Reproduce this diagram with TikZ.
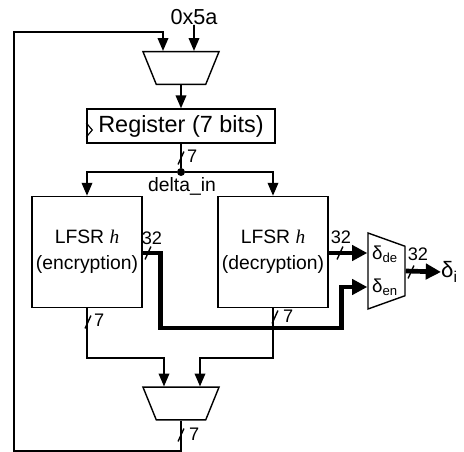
\documentclass[tikz,border=0pt]{standalone}
\usepackage{fontspec}
\setmainfont{Liberation Sans}
\newfontfamily\hfont{Liberation Serif}
\usetikzlibrary{shapes.geometric,arrows.meta,positioning,calc}

\tikzset{bw/.pic={\draw[line width=1.2pt] (-2.5pt,-5.5pt) -- (2.5pt,5.5pt);}}

\begin{document}
\begin{tikzpicture}[x=0.03cm,y=-0.03cm,
  line/.style={line width=1.5pt},
  arr/.style={line,-{Triangle[length=11pt,width=9pt]}},
  bus/.style={line width=4pt,-{Triangle[length=13pt,width=13pt]}},
  mux/.style={trapezium,draw,line width=1.2pt,trapezium stretches=true,trapezium angle=75,
    minimum width=2.28cm,minimum height=0.98cm,inner sep=1pt,shape border rotate=180},
  muxv/.style={mux,shape border rotate=270,minimum width=2.28cm,minimum height=1.11cm},
  lfsr/.style={draw,line width=1.3pt,minimum width=3.06cm,minimum height=3.33cm,align=center,
    font=\fontsize{16.5}{22}\selectfont},
  lbl/.style={font=\fontsize{15.5}{15.5}\selectfont,inner sep=0pt},
  txt/.style={font=\fontsize{16.5}{18}\selectfont,inner sep=0pt}
]
  \useasboundingbox (0,0) rectangle (464,452);
  % top part
  \node[txt,font=\fontsize{18.5}{20}\selectfont] (hex) at (194,17) {0x5a};
  \node[mux] (muxa) at (181,68) {};
  \node[draw,line width=1.2pt,minimum width=5.64cm,minimum height=1.02cm,
    font=\fontsize{20}{22}\selectfont] (reg) at (181,126) {Register (7 bits)};
  \draw[line width=1pt] ([yshift=0.09cm]reg.west) -- ++(0.18cm,-0.21cm) -- ++(-0.18cm,-0.21cm);
  \node[circle,fill,inner sep=0pt,minimum size=0.24cm] (split) at (181,172) {};
  \node[txt] (din) at (182,186) {delta\_in};
  % the two LFSRs
  \node[lfsr] (lfsrE) at (87,252) {LFSR {\hfont\itshape h}\\(encryption)};
  \node[lfsr] (lfsrD) at (273,252) {LFSR {\hfont\itshape h}\\(decryption)};
  % output muxes
  \node[muxv] (muxc) at (386.5,271) {};
  \node[lbl,font=\fontsize{16}{16}\selectfont] (de) at (385,254) {δ\textsubscript{de}};
  \node[lbl,font=\fontsize{16}{16}\selectfont] (en) at (385,287) {δ\textsubscript{en}};
  \node[lbl,font=\fontsize{19}{19}\selectfont,anchor=west] (di) at (441,272) {δ\textsubscript{i}};
  \node[mux] (muxb) at (181,403.5) {};
  \coordinate (inde) at ([yshift=0.54cm]muxc.west);
  \coordinate (inen) at ([yshift=-0.48cm]muxc.west);
  \coordinate (lp) at (14,451);
  \coordinate (lt) at (14,32);

  \draw[arr] (hex.south) -- ([xshift=0.39cm]muxa.north);
  \draw[arr] (muxb.south) |- (lp) -- (lt) -| ([xshift=-0.54cm]muxa.north);
  \draw[arr] (muxa.south) -- (reg.north);
  \draw[line] (reg.south) -- (split);
  \draw[arr] (split) -| (lfsrE.north);
  \draw[arr] (split) -| (lfsrD.north);
  \draw[arr] (lfsrE.south) -- ++(0,50) -| ([xshift=-0.51cm]muxb.north);
  \draw[arr] (lfsrD.south) -- ++(0,50) -| ([xshift=0.57cm]muxb.north);
  \draw[bus] (lfsrE.east |- inde) -- ++(18,0) -- ++(0,75) -| ([xshift=-0.78cm]inen) -- (inen);
  \draw[bus] (lfsrD.east |- inde) -- (inde);
  \draw[bus] (muxc.east) -- (di.west);

  % bus widths
  \pic at (181,158) {bw};   \node[lbl,anchor=west] at (187,156) {7};
  \pic at (148,253) {bw};   \node[lbl] at (152,238) {32};
  \pic at (340,253) {bw};   \node[lbl] at (341,237) {32};
  \pic at (411,272) {bw};   \node[lbl] at (418,254) {32};
  \pic at (88,322) {bw};    \node[lbl,anchor=west] at (94,320) {7};
  \pic at (275,317) {bw};   \node[lbl,anchor=west] at (283,316) {7};
  \pic at (181,435) {bw};   \node[lbl,anchor=west] at (189,434) {7};
\end{tikzpicture}
\end{document}
